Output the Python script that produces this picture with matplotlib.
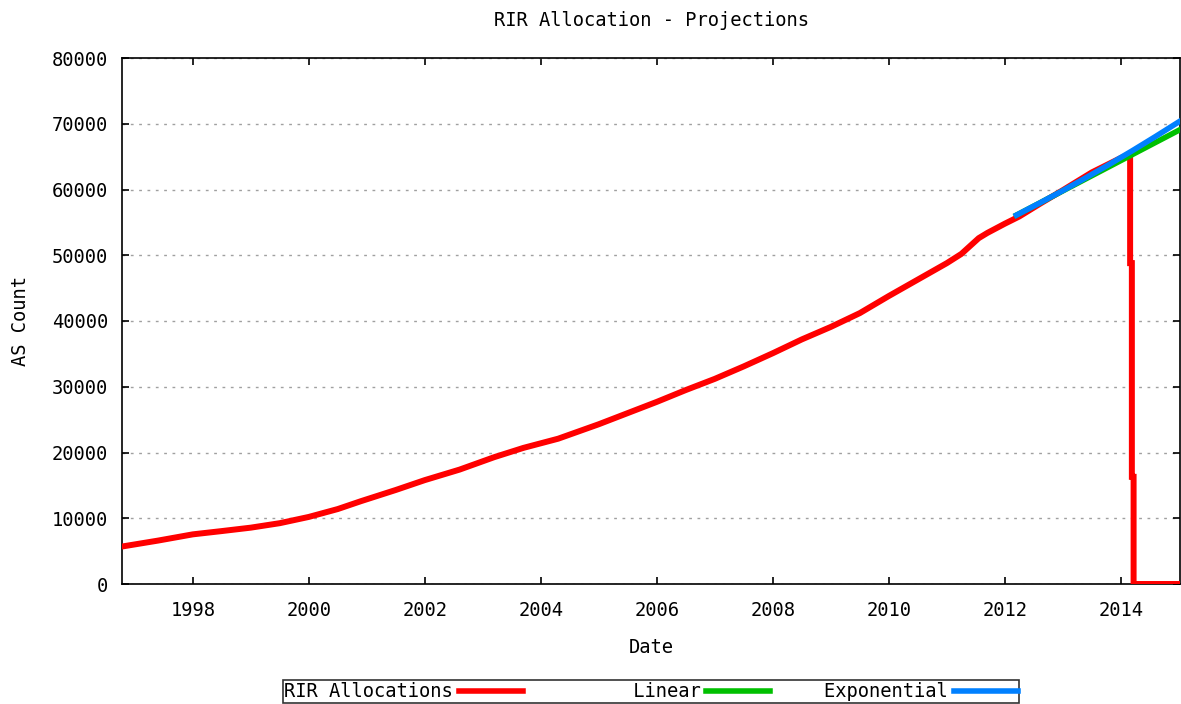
import matplotlib
matplotlib.use('Agg')

import matplotlib.pyplot as plt
import numpy as np

# RIR allocations (AS count)
rir_years = np.array([1996.78, 1997.4, 1998.0, 1998.5, 1999.0, 1999.5, 2000.0, 2000.5,
                      2000.9, 2001.5, 2002.0, 2002.6, 2003.2, 2003.7, 2004.3, 2005.0,
                      2005.5, 2006.0, 2006.5, 2007.0, 2007.5, 2008.0, 2008.5, 2009.0,
                      2009.5, 2010.0, 2010.5, 2011.0, 2011.25, 2011.55, 2011.7, 2012.0,
                      2012.25, 2012.6, 2013.0, 2013.5, 2014.0, 2014.16, 2014.16, 2014.19,
                      2014.19, 2014.22, 2014.22, 2015.1])
rir_counts = np.array([5700, 6600, 7550, 8050, 8570, 9250, 10200, 11400,
                       12600, 14300, 15800, 17400, 19300, 20700, 22100, 24300,
                       26000, 27700, 29500, 31200, 33100, 35100, 37200, 39100,
                       41200, 43800, 46300, 48800, 50200, 52600, 53400, 54800,
                       55900, 57800, 59900, 62600, 64800, 65400, 48800, 48800,
                       16300, 16300, 0, 0])

# projections
lin_years = np.array([2012.2, 2015.02])
lin_counts = np.array([56100, 69100])

exp_years = np.array([2012.2, 2012.6, 2013.0, 2013.4, 2013.8, 2014.2, 2014.6, 2015.02])
exp_counts = np.array([56100, 57940, 59830, 61800, 63820, 65910, 68070, 70400])

xticks = [1998, 2000, 2002, 2004, 2006, 2008, 2010, 2012, 2014]
yticks = [0, 10000, 20000, 30000, 40000, 50000, 60000, 70000, 80000]

font = 'DejaVu Sans Mono'
fs = 13.5

fig = plt.figure(figsize=(11.81, 7.04), dpi=100)
ax = fig.add_axes([122 / 1181, 1 - 584 / 704, 1058 / 1181, 526 / 704])

ax.plot(rir_years, rir_counts, color='#ff0000', linewidth=4.3,
        solid_joinstyle='miter', label='RIR Allocations', zorder=3)
ax.plot(lin_years, lin_counts, color='#00c000', linewidth=4.0,
        label='         Linear', zorder=4)
ax.plot(exp_years, exp_counts, color='#0080ff', linewidth=4.0,
        label='    Exponential', zorder=5)

ax.set_xlim(1996.78, 2015.02)
ax.set_ylim(0, 80000)
ax.set_xticks(xticks)
ax.set_yticks(yticks)
ax.set_xticklabels([str(t) for t in xticks], fontsize=fs, family=font)
ax.set_yticklabels([str(t) for t in yticks], fontsize=fs, family=font)

ax.tick_params(direction='in', length=5, width=1.2, top=True, right=True,
               color='black')
ax.tick_params(axis='x', pad=12)
ax.tick_params(axis='y', pad=10)

for s in ax.spines.values():
    s.set_linewidth(1.2)

ax.yaxis.grid(True, color='#a0a0a0', linestyle=(0, (2, 4)), linewidth=1.0)
ax.set_axisbelow(True)

ax.set_xlabel('Date', fontsize=fs, family=font)
ax.set_ylabel('AS Count', fontsize=fs, family=font)
ax.xaxis.set_label_coords(0.5, -0.103)
ax.yaxis.set_label_coords(-0.087, 0.5)

fig.text(651 / 1181, 1 - 21 / 704, 'RIR Allocation - Projections',
         ha='center', va='center', fontsize=fs, family=font)

leg = fig.legend(loc='lower center', bbox_to_anchor=(651 / 1181, 0.0),
                 ncol=3, markerfirst=False, frameon=True, fancybox=False,
                 edgecolor='black', borderpad=0.1, borderaxespad=0.05,
                 handlelength=3.4, handletextpad=0.3, columnspacing=0.5,
                 prop={'family': font, 'size': fs})
leg.get_frame().set_linewidth(1.2)
for line in leg.get_lines():
    line.set_linewidth(4)

out_png = 'out.png'
fig.savefig(out_png, dpi=100)
